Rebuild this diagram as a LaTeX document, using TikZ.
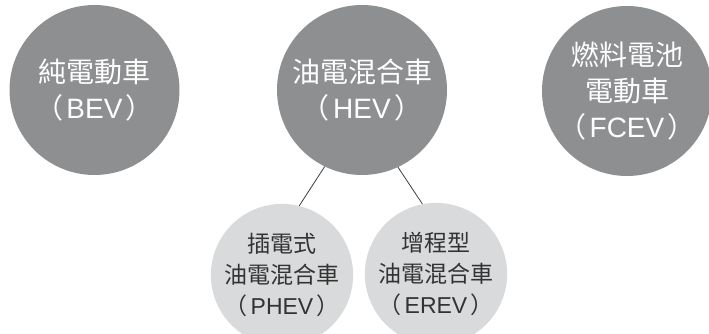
\documentclass[tikz,border=0pt]{standalone}
\usepackage{fontspec}
\setmainfont{Noto Sans CJK TC}
\newfontfamily\latinfont{Liberation Sans}
\usetikzlibrary{positioning}
\definecolor{bigfill}{HTML}{8E8F91}
\definecolor{subfill}{HTML}{D9DADB}
\definecolor{subtext}{HTML}{333333}
\definecolor{linkgray}{HTML}{3C3C3C}
\newcommand{\abbr}[1]{（\hspace{0.12em}{\latinfont #1}\hspace{0.12em}）}

\begin{document}
\begin{tikzpicture}[x=1pt,y=1pt,
  bigcar/.style={circle,fill=bigfill,inner sep=0pt,minimum size=170pt,
    text=white,align=center,font=\fontsize{28}{36}\selectfont},
  subcar/.style={circle,fill=subfill,inner sep=0pt,minimum size=130pt,
    text=subtext,align=center,font=\fontsize{23}{31}\selectfont},
  link/.style={draw=linkgray,line width=0.8pt}]
  \useasboundingbox (0,0) rectangle (709,334);
  \node[bigcar] (bev) at (94.5,244) {純電動車\\\abbr{BEV}};
  \node[bigcar] (hev) at (362,244) {油電混合車\\\abbr{HEV}};
  \node[bigcar] (fcev) at (627,243) {燃料電池\\電動車\\\abbr{FCEV}};
  \node[subcar] (phev) at (282,59) {插電式\\油電混合車\\\abbr{PHEV}};
  \node[subcar,minimum size=127pt] (erev) at (436,60) {增程型\\油電混合車\\\abbr{EREV}};
  % branches of the hybrid
  \draw[link] (hev.244) -- (phev.76);
  \draw[link] (hev.295) -- (erev.101);
\end{tikzpicture}
\end{document}
